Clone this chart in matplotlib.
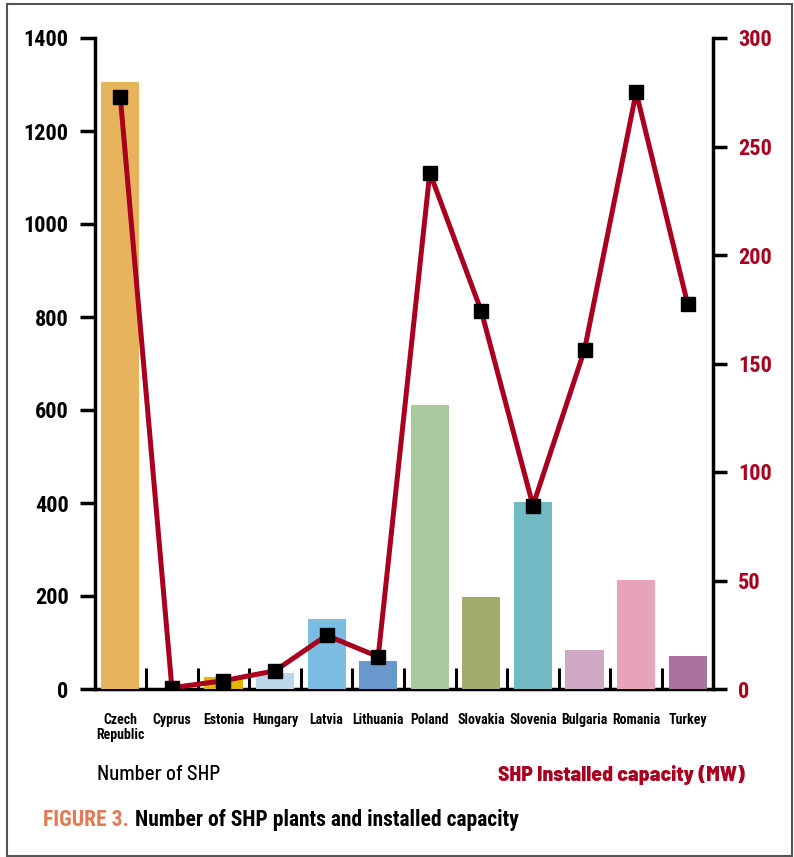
import matplotlib
matplotlib.use("Agg")
import matplotlib.pyplot as plt
from matplotlib import font_manager
from matplotlib.patches import Rectangle

names = {f.name for f in font_manager.fontManager.ttflist}
COND = "Roboto Condensed" if "Roboto Condensed" in names else "Barlow Condensed"
SEMI = "Barlow Semi Condensed" if "Barlow Semi Condensed" in names else COND

countries = ["Czech\nRepublic", "Cyprus", "Estonia", "Hungary", "Latvia", "Lithuania",
             "Poland", "Slovakia", "Slovenia", "Bulgaria", "Romania", "Turkey"]
n_shp = [1305, 0, 26, 35, 150, 60, 611, 198, 402, 84, 234, 71]
capacity_mw = [273, 0.6, 3.8, 8.4, 24.7, 14.9, 238, 174, 84.5, 156.4, 275, 177.3]
bar_colors = ["#E8B35D", "#FFFFFF", "#E0B800", "#BCD6EA", "#7CBDE3", "#6A98CD",
              "#A9CA9F", "#A0AD6B", "#72BAC3", "#CFA8C4", "#E7A3B8", "#AB729F"]

RED = "#A8001E"

fig = plt.figure(figsize=(7.94, 8.57), dpi=100)
ax = fig.add_axes([95 / 794, 1 - 689 / 857, (713 - 95) / 794, (689 - 38) / 857])
x = list(range(len(countries)))
ax.bar(x, n_shp, width=0.74, color=bar_colors, zorder=3)
ax.set_xlim(-0.49, 11.49)
ax.set_ylim(0, 1400)
ax.set_yticks(range(0, 1401, 200))
ax.set_xticks(x)
ax.set_xticklabels(countries, fontfamily=COND, fontweight="bold", fontsize=10,
                   linespacing=1.15)
ax.set_xticks([i + 0.5 for i in range(11)], minor=True)
ax.tick_params(axis="x", which="major", length=0, pad=17)
ax.tick_params(axis="x", which="minor", direction="in", length=15, width=2.2)
ax.tick_params(axis="y", length=11, width=2.5, pad=8)
for lab in ax.get_yticklabels():
    lab.set_fontfamily(COND)
    lab.set_fontweight("bold")
    lab.set_fontsize(16)
ax.spines["top"].set_visible(False)
ax.spines["right"].set_visible(False)
ax.spines["left"].set_linewidth(2.5)
ax.spines["bottom"].set_linewidth(2.5)

ax2 = ax.twinx()
ax2.plot(x, capacity_mw, color=RED, linewidth=3.6, marker="s", markersize=10,
         markerfacecolor="black", markeredgecolor="black", zorder=5)
ax2.set_ylim(0, 300)
ax2.set_yticks(range(0, 301, 50))
ax2.tick_params(axis="y", length=10, width=2.5, pad=8, colors="black", labelcolor=RED)
for lab in ax2.get_yticklabels():
    lab.set_fontfamily(COND)
    lab.set_fontweight("heavy")
    lab.set_fontsize(16)
for s in ["top", "left", "bottom"]:
    ax2.spines[s].set_visible(False)
ax2.spines["right"].set_linewidth(2.5)

fig.text(97 / 794, 1 - 775 / 857, "Number of SHP", fontfamily=SEMI,
         fontweight="medium", fontsize=15, va="center", ha="left")
fig.text(745 / 794, 1 - 775 / 857, "SHP Installed capacity (MW)", fontfamily=SEMI,
         fontweight="heavy", fontsize=15.5, color=RED, va="center", ha="right")
t1 = fig.text(43 / 794, 1 - 820 / 857, "FIGURE 3.", fontfamily=COND, fontweight="bold",
              fontsize=15.5, color="#E07B54", va="center", ha="left")
fig.canvas.draw()
bb = t1.get_window_extent()
fig.text((bb.x1 + 6) / 794, 1 - 820 / 857, "Number of SHP plants and installed capacity",
         fontfamily=COND, fontweight="bold", fontsize=15.5, va="center", ha="left")

fig.patches.append(Rectangle((7 / 794, 1 - 856 / 857), 785 / 794, 852 / 857,
                             transform=fig.transFigure, fill=False,
                             edgecolor="#555555", linewidth=1.5))

fig.savefig("out.png", dpi=100)
